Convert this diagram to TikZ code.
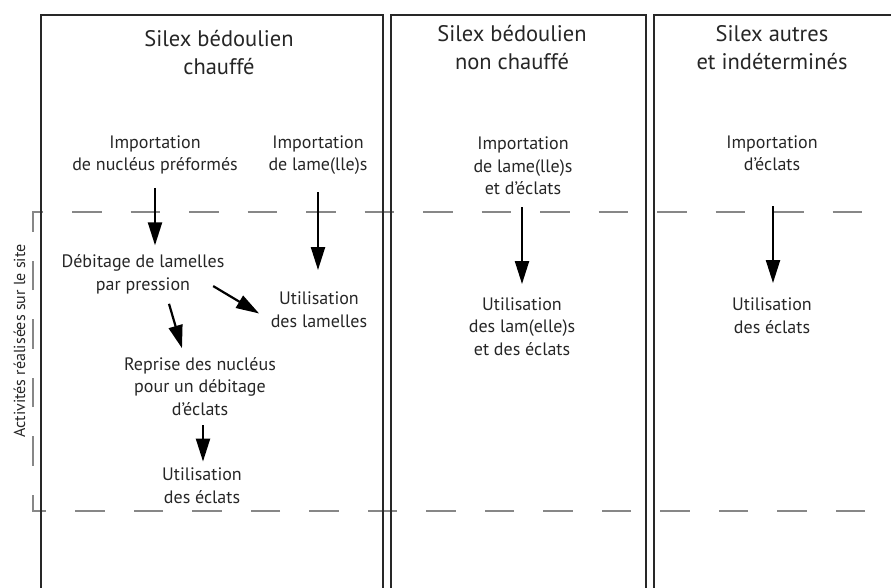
\documentclass[tikz,border=0pt]{standalone}
\usepackage{fontspec}
\setmainfont{PT Sans}
\usetikzlibrary{arrows.meta}
\definecolor{txt}{RGB}{38,38,38}
\definecolor{boxc}{RGB}{40,40,40}
\definecolor{dashc}{RGB}{135,135,135}
\begin{document}
\begin{tikzpicture}[x=1pt,y=-1pt,
  lbl/.style={font=\fontsize{18}{22.5}\selectfont, text=txt, align=center, inner sep=0pt, anchor=base},
  side/.style={font=\fontsize{16}{20}\selectfont, text=txt, inner sep=0pt, anchor=base, rotate=90},
  ttl/.style={font=\fontsize{22.5}{28}\selectfont, text=txt, align=center, inner sep=0pt, anchor=base},
  arr/.style={line width=2.2pt, -{Triangle[length=23pt,width=14pt]}},
  colbox/.style={line width=2pt, draw=boxc},
  sep/.style={line width=2pt, draw=dashc, dash pattern=on 29.5pt off 29pt, dash phase=32.5pt}]
\useasboundingbox (0,0) rectangle (891,588);
% separators
\draw[sep] (891,511) -- (33,511) -- (33,212) -- (891,212);
% column boxes
\draw[colbox] (41,588) -- (41,15) -- (383,15) -- (383,588);
\draw[colbox] (391,588) -- (391,15) -- (646,15) -- (646,588);
\draw[colbox] (654,588) -- (654,15) -- (891,15);
% titles (anchor = baseline of last line)
\node[ttl] (t1) at (219,75) {Silex bédoulien\\chauffé};
\node[ttl] (t2) at (512,70) {Silex bédoulien\\non chauffé};
\node[ttl] (t3) at (772,70) {Silex autres\\et indéterminés};
% column 1
\node[lbl] (imp1) at (155,171) {Importation\\de nucléus préformés};
\node[lbl] (imp2) at (318,171) {Importation\\de lame(lle)s};
\node[lbl] (deb) at (143,290) {Débitage de lamelles\\par pression};
\node[lbl] (utl) at (319,327) {Utilisation\\des lamelles};
\node[lbl] (rep) at (200,415) {Reprise des nucléus\\pour un débitage\\d’éclats};
\node[lbl] (ute1) at (202,503) {Utilisation\\des éclats};
% column 2
\node[lbl] (imp3) at (523,195) {Importation\\de lame(lle)s\\et d’éclats};
\node[lbl] (utm) at (522,355) {Utilisation\\des lam(elle)s\\et des éclats};
% column 3
\node[lbl] (imp4) at (772,171) {Importation\\d’éclats};
\node[lbl] (ute2) at (772,333) {Utilisation\\des éclats};
% side label
\node[side] (act) at (25,341) {Activités réalisées sur le site};
% arrows
\draw[arr] ([yshift=-13pt]imp1.south) -- ([yshift=9pt]imp1.south |- deb.north);
\draw[arr] ([yshift=-17pt]imp2.south) -- ([yshift=21.5pt]imp2.south |- utl.north);
\draw[arr] ([xshift=-11.5pt,yshift=-12pt]deb.east) -- ([xshift=-11.5pt,yshift=-4pt]utl.west);
\draw[arr] ([xshift=26pt,yshift=-10pt]deb.south) -- ([xshift=-18pt,yshift=8.6pt]rep.north);
\draw[arr] ([xshift=3pt,yshift=-9.7pt]rep.south) -- ([xshift=1pt,yshift=6pt]ute1.north);
\draw[arr] ([xshift=-1pt,yshift=-11.7pt]imp3.south) -- ([yshift=13pt]utm.north);
\draw[arr] ([xshift=1pt,yshift=-34.7pt]imp4.south) -- ([xshift=1pt,yshift=14.5pt]ute2.north);
\end{tikzpicture}
\end{document}
